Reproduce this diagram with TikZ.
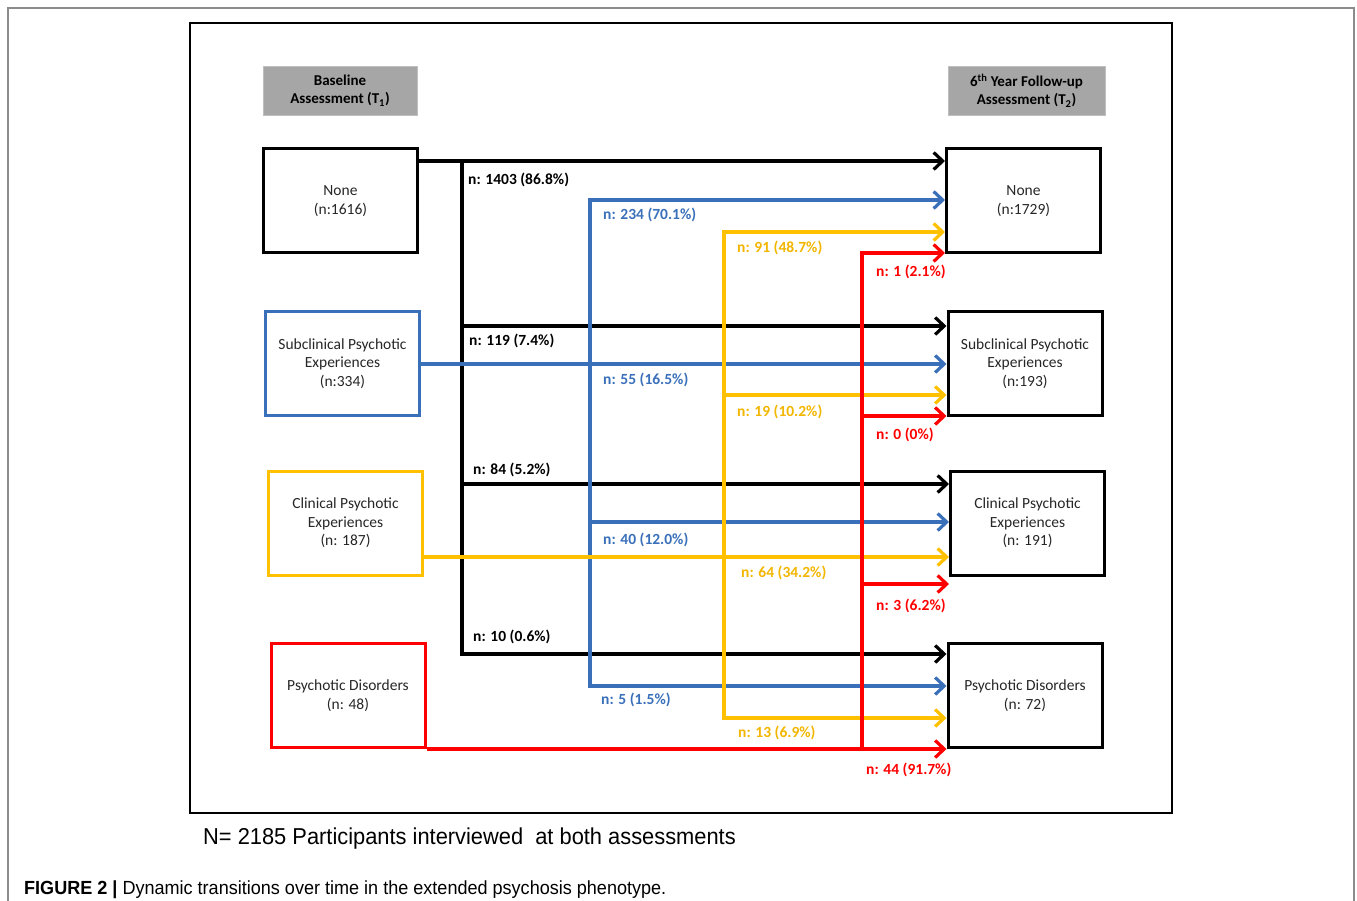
\documentclass[tikz,border=0pt]{standalone}
\usepackage{fontspec}
\setmainfont{Carlito}
\newfontfamily\capfont[FakeStretch=0.95]{Liberation Sans}
\usetikzlibrary{arrows.meta}
\definecolor{cblue}{RGB}{58,112,186}
\definecolor{cyel}{RGB}{255,192,0}
\definecolor{cyeltxt}{RGB}{242,182,0}
\definecolor{cred}{RGB}{255,0,0}
\definecolor{hgrey}{RGB}{166,166,166}
\tikzset{
  box/.style={draw,line width=3pt,minimum width=154pt,minimum height=104pt,inner sep=0pt,align=center,
    font=\fontsize{15.5}{18.5}\selectfont,text=black!85},
  hdr/.style={fill=hgrey,draw=black!25,line width=0.6pt,minimum height=49pt,inner sep=0pt,align=center,
    font=\bfseries\fontsize{15}{18.5}\selectfont},
  conn/.style={line width=3.2pt,line join=miter},
  tip/.tip={Straight Barb[length=9pt,width=17pt]},
  arr/.style={conn,-tip},
  arr2/.style={conn,tip-tip},
  arr1/.style={conn,tip-},
  lab/.style={anchor=west,inner sep=0pt,font=\bfseries\fontsize{15.5}{17}\selectfont},
}
\begin{document}
\begin{tikzpicture}[x=1pt,y=1pt]
\useasboundingbox (0,0) rectangle (1357,-901);
% outer frames
\draw[black!45,line width=1.5pt] (8,-905) -- (8,-8) -- (1354,-8) -- (1354,-905);
\draw[black,line width=1.2pt] (190,-23) rectangle (1172,-813);
% headers
\node[hdr,minimum width=154pt] (H1) at (340,-90.5) {Baseline\\Assessment (T\textsubscript{1})};
\node[hdr,minimum width=157pt] (H2) at (1026.5,-90.5) {6\textsuperscript{th} Year Follow-up\\Assessment (T\textsubscript{2})};
% left boxes
\node[box] (L0) at (340.5,-201) {None\\(n:1616)};
\node[box,draw=cblue] (L1) at (342.5,-363.5) {Subclinical Psychotic\\Experiences\\(n:334)};
\node[box,draw=cyel] (L2) at (345.5,-523) {Clinical Psychotic\\Experiences\\(n: 187)};
\node[box,draw=cred] (L3) at (348,-695.5) {Psychotic Disorders\\(n: 48)};
% right boxes
\node[box] (R0) at (1023.5,-201) {None\\(n:1729)};
\node[box] (R1) at (1025,-363.5) {Subclinical Psychotic\\Experiences\\(n:193)};
\node[box] (R2) at (1027.5,-523) {Clinical Psychotic\\Experiences\\(n: 191)};
\node[box] (R3) at (1025,-695.5) {Psychotic Disorders\\(n: 72)};
% coordinates
\coordinate (k0) at (462,-161);
\coordinate (k1) at (462,-326);
\coordinate (k2) at (462,-484);
\coordinate (k3) at (462,-654);
\coordinate (b0) at (590,-200);
\coordinate (b1) at (590,-364);
\coordinate (b2) at (590,-522);
\coordinate (b3) at (590,-686);
\coordinate (y0) at (724,-232);
\coordinate (y1) at (724,-395);
\coordinate (y2) at (724,-557);
\coordinate (y3) at (724,-718);
\coordinate (r0) at (862,-253);
\coordinate (r1) at (862,-416);
\coordinate (r2) at (862,-584);
\coordinate (r3) at (862,-749);
% black
\draw[arr] (L0.east |- k0) -- (R0.west |- k0);
\draw[arr] (k0) -- (k3) -- (R3.west |- k3);
\draw[arr] (k1) -- (R1.west |- k1);
\draw[arr] (k2) -- (R2.west |- k2);
% blue
\draw[arr,cblue] (L1.east |- b1) -- (R1.west |- b1);
\draw[arr2,cblue] (R0.west |- b0) -- (b0) -- (b3) -- (R3.west |- b3);
\draw[arr,cblue] (b2) -- (R2.west |- b2);
% yellow
\draw[arr,cyel] (L2.east |- y2) -- (R2.west |- y2);
\draw[arr2,cyel] (R0.west |- y0) -- (y0) -- (y3) -- (R3.west |- y3);
\draw[arr,cyel] (y1) -- (R1.west |- y1);
% red
\draw[arr,cred] (L3.south east) -- (R3.west |- r3);
\draw[arr1,cred] (R0.west |- r0) -- (r0) -- ([yshift=-1.5pt]r3);
\draw[arr,cred] (r1) -- (R1.west |- r1);
\draw[arr,cred] (r2) -- (R2.west |- r2);
% labels black
\node[lab] (lk0) at (468,-180) {n: 1403 (86.8\%)};
\node[lab] (lk1) at (469,-341) {n: 119 (7.4\%)};
\node[lab] (lk2) at (473,-470) {n: 84 (5.2\%)};
\node[lab] (lk3) at (473,-637) {n: 10 (0.6\%)};
% labels blue
\node[lab,text=cblue] (lb0) at (603,-215) {n: 234 (70.1\%)};
\node[lab,text=cblue] (lb1) at (603,-380) {n: 55 (16.5\%)};
\node[lab,text=cblue] (lb2) at (603,-540) {n: 40 (12.0\%)};
\node[lab,text=cblue] (lb3) at (601,-700) {n: 5 (1.5\%)};
% labels yellow
\node[lab,text=cyeltxt] (ly0) at (737,-248) {n: 91 (48.7\%)};
\node[lab,text=cyeltxt] (ly1) at (737,-412) {n: 19 (10.2\%)};
\node[lab,text=cyeltxt] (ly2) at (741,-573) {n: 64 (34.2\%)};
\node[lab,text=cyeltxt] (ly3) at (738,-733) {n: 13 (6.9\%)};
% labels red
\node[lab,text=cred] (lr0) at (876,-272) {n: 1 (2.1\%)};
\node[lab,text=cred] (lr1) at (876,-435) {n: 0 (0\%)};
\node[lab,text=cred] (lr2) at (876,-606) {n: 3 (6.2\%)};
\node[lab,text=cred] (lr3) at (866,-770) {n: 44 (91.7\%)};
% captions
\node[anchor=west,inner sep=0pt,font=\capfont\fontsize{23}{26}\selectfont] (cap1) at (203,-839) {N= 2185 Participants interviewed\ \ at both assessments};
\node[anchor=west,inner sep=0pt,font=\capfont\fontsize{19}{22}\selectfont] (cap2) at (24,-890) {\textbf{FIGURE 2 |} Dynamic transitions over time in the extended psychosis phenotype.};
\end{tikzpicture}
\end{document}
